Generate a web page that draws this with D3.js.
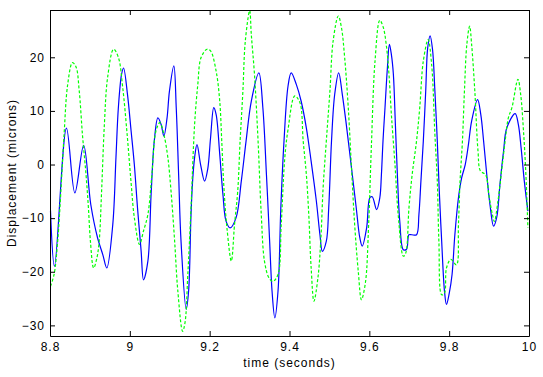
<!DOCTYPE html>
<html>
<head>
<meta charset="utf-8">
<script src="https://cdn.jsdelivr.net/npm/d3@7"></script>
<style>
    body { margin: 0; background: #fff; }
    text { font-family: "Liberation Sans", Arial, sans-serif; font-size: 12px; letter-spacing: 1px; fill: #000; }
</style>
</head>
<body>
<div id="chart"></div>
<script>
// time axis ticks and displacement ticks
var xTicks = [8.8, 9, 9.2, 9.4, 9.6, 9.8, 10];
var yTicks = [-30, -20, -10, 0, 10, 20];

// blue trace (solid)
var blueTime = [8.800, 8.810, 8.840, 8.861, 8.883, 8.901, 8.918, 8.931, 8.941, 8.956, 8.964, 8.970, 8.978, 8.983, 8.993,
    9.002, 9.010, 9.018, 9.027, 9.033, 9.044, 9.052, 9.060, 9.069, 9.077, 9.084, 9.092, 9.098, 9.109, 9.115, 9.121, 9.127,
    9.140, 9.146, 9.152, 9.156, 9.161, 9.167, 9.176, 9.186, 9.194, 9.201, 9.209, 9.215, 9.224, 9.232, 9.240, 9.250, 9.265,
    9.278, 9.290, 9.303, 9.322, 9.332, 9.341, 9.349, 9.355, 9.362, 9.370, 9.377, 9.385, 9.395, 9.403, 9.416, 9.428, 9.441,
    9.453, 9.466, 9.475, 9.481, 9.491, 9.497, 9.504, 9.512, 9.522, 9.531, 9.541, 9.554, 9.566, 9.575, 9.581, 9.592, 9.600,
    9.606, 9.617, 9.625, 9.629, 9.633, 9.638, 9.644, 9.649, 9.654, 9.659, 9.664, 9.669, 9.675, 9.684, 9.692, 9.698, 9.705,
    9.717, 9.723, 9.728, 9.734, 9.740, 9.745, 9.751, 9.757, 9.763, 9.769, 9.774, 9.780, 9.787, 9.792, 9.799, 9.806, 9.813,
    9.822, 9.830, 9.839, 9.847, 9.855, 9.870, 9.878, 9.885, 9.893, 9.901, 9.910, 9.918, 9.926, 9.935, 9.943, 9.964, 9.972,
    9.979, 9.987, 9.996];
var blueDisp = [-8.6, -19.0, 6.8, -5.3, 3.6, -7.5, -13.7, -16.8, -19.3, -11.2, 1.3, 10.6, 16.8, 18.0, 13.0,
    6.2, 0, -8.1, -16.1, -21.5, -18.0, -5.6, 4.4, 8.7, 7.5, 5.3, 8.7, 13.7, 18.4, 10.6, -1.9, -14.3,
    -27.0, -23.6, -9.3, -3.1, 1.3, 3.7, 0, -3.1, -0.8, 5.0, 10.6, 9.3, 1.9, -5.6, -10.6, -11.8, -9.9,
    -3.1, 4.4, 11.8, 17.1, 10.6, -1.9, -14.3, -23.6, -28.6, -23.6, -8.1, 4.4, 14.6, 17.1, 14.9, 11.8, 6.8,
    0.6, -6.8, -13.1, -16.2, -14.3, -8.1, 4.4, 13.1, 17.1, 13.1, 7.5, -0.6, -8.1, -13.7, -15.2, -11.8, -6.2,
    -6.0, -8.4, -6.2, -1.9, 4.4, 10.6, 18.0, 22.4, 20.5, 16.8, 7.5, -1.9, -10.6, -15.9, -15.8, -13.1, -13.1,
    -13.1, -9.3, -3.1, 4.4, 13.7, 21.8, 24.0, 21.5, 13.7, 4.4, -5.0, -14.3, -23.6, -26.1, -24.0, -20.5, -13.1,
    -6.2, -2.5, 0, 3.7, 8.1, 12.1, 9.3, 4.4, -1.9, -7.5, -11.5, -9.8, -3.7, 2.5, 6.8, 9.5, 7.5,
    3.1, -3.1, -8.7];

// green trace (dashed)
var greenTime = [8.800, 8.809, 8.818, 8.826, 8.834, 8.843, 8.855, 8.864, 8.872, 8.880, 8.889, 8.895, 8.900, 8.908, 8.916,
    8.922, 8.928, 8.935, 8.943, 8.958, 8.970, 8.981, 8.992, 9.002, 9.010, 9.023, 9.033, 9.044, 9.054, 9.064, 9.074, 9.084,
    9.094, 9.102, 9.111, 9.119, 9.131, 9.137, 9.144, 9.152, 9.161, 9.169, 9.177, 9.192, 9.201, 9.215, 9.224, 9.229, 9.234,
    9.242, 9.253, 9.261, 9.269, 9.275, 9.282, 9.288, 9.299, 9.303, 9.311, 9.320, 9.328, 9.336, 9.347, 9.357, 9.370, 9.378,
    9.387, 9.395, 9.412, 9.425, 9.433, 9.441, 9.447, 9.453, 9.460, 9.470, 9.477, 9.483, 9.491, 9.500, 9.508, 9.521, 9.529,
    9.537, 9.546, 9.554, 9.562, 9.571, 9.579, 9.589, 9.597, 9.604, 9.613, 9.625, 9.634, 9.642, 9.648, 9.654, 9.663, 9.671,
    9.684, 9.690, 9.698, 9.706, 9.717, 9.725, 9.734, 9.746, 9.755, 9.763, 9.769, 9.773, 9.780, 9.787, 9.792, 9.803, 9.817,
    9.822, 9.826, 9.832, 9.837, 9.843, 9.850, 9.855, 9.863, 9.871, 9.877, 9.890, 9.898, 9.907, 9.912, 9.921, 9.931, 9.939,
    9.947, 9.956, 9.971, 9.978, 9.985, 9.991, 9.996];
var greenDisp = [-22.7, -20.5, -14.3, -5.0, 5.6, 14.9, 19.0, 18.2, 13.7, 5.6, -1.9, -8.1, -14.3, -19.3, -17.5,
    -14.3, -5.0, 7.5, 16.2, 21.5, 20.0, 14.3, 5.6, -3.5, -9.9, -14.9, -12.4, -9.3, -1.9, 6.2, 7.8, 5.6,
    1.3, -5.0, -14.3, -23.6, -31.1, -29.5, -20.5, -8.1, 7.5, 14.9, 19.9, 21.5, 21.2, 17.4, 11.8, 4.4, -3.7,
    -11.8, -18.0, -11.2, -5.0, 4.4, 13.7, 23.0, 28.7, 24.3, 16.8, 4.4, -9.3, -18.0, -21.1, -21.8, -20.5, -11.2,
    1.3, 6.5, 12.8, 11.5, 4.4, -1.9, -9.3, -19.3, -25.5, -21.1, -14.3, -4.3, 4.4, 13.7, 23.0, 27.7, 25.5,
    19.9, 10.6, -0.6, -11.2, -19.9, -25.2, -22.0, -11.2, 3.7, 19.3, 26.9, 25.5, 21.8, 16.8, 9.3, 0, -9.3,
    -17.1, -16.5, -8.1, -1.9, 4.4, 10.6, 19.3, 23.3, 18.5, 5.6, -3.1, -14.3, -24.3, -24.0, -19.3, -17.7, -18.7,
    -11.2, -3.1, 4.4, 13.7, 22.4, 25.8, 22.4, 13.7, 2.5, -1.2, -1.9, -5.6, -9.3, -10.6, -6.8, -0.6, 4.4,
    8.7, 10.6, 15.9, 13.0, 6.2, -1.9, -11.8];

var width = 543, height = 377;
var plotLeft = 50, plotRight = 529, plotTop = 10, plotBottom = 336;

var svg = d3.select("#chart").append("svg")
    .attr("width", width).attr("height", height);

svg.append("rect").attr("width", width).attr("height", height).attr("fill", "#fff");

var x = d3.scaleLinear().domain([8.8, 10]).range([plotLeft, plotRight]);
var y = d3.scaleLinear().domain([-31.98, 28.82]).range([plotBottom, plotTop]);

var blueData = blueTime.map(function(t, i) { return { t: t, v: blueDisp[i] }; });
var greenData = greenTime.map(function(t, i) { return { t: t, v: greenDisp[i] }; });

var line = d3.line()
    .x(function(d) { return x(d.t) + 0.5; })
    .y(function(d) { return y(d.v); })
    .curve(d3.curveCatmullRom.alpha(0.5));

var plot = svg.append("g");

plot.append("path")
    .datum(blueData)
    .attr("d", line)
    .attr("fill", "none")
    .attr("stroke", "#0000ff")
    .attr("stroke-width", 1.2);

plot.append("path")
    .datum(greenData)
    .attr("d", line)
    .attr("fill", "none")
    .attr("stroke", "#00ff00")
    .attr("stroke-width", 1.2)
    .attr("stroke-dasharray", "3,2");

// box axes, ticks pointing in
svg.append("g")
    .attr("transform", "translate(0," + plotBottom + ")")
    .call(d3.axisBottom(x).tickValues(xTicks).tickSizeInner(-5).tickSizeOuter(0).tickPadding(6)
        .tickFormat(function(d) { return d3.format("")(d); }));

svg.append("g")
    .attr("transform", "translate(0," + plotTop + ")")
    .call(d3.axisTop(x).tickValues(xTicks).tickSizeInner(-5).tickSizeOuter(0).tickFormat(""));

svg.append("g")
    .attr("transform", "translate(" + plotLeft + ",0)")
    .call(d3.axisLeft(y).tickValues(yTicks).tickSizeInner(-5).tickSizeOuter(0).tickPadding(5));

svg.append("g")
    .attr("transform", "translate(" + plotRight + ",0)")
    .call(d3.axisRight(y).tickValues(yTicks).tickSizeInner(-5).tickSizeOuter(0).tickFormat(""));

svg.selectAll(".domain").attr("stroke", "#000");
svg.selectAll(".tick line").attr("stroke", "#000");
svg.selectAll(".tick text")
    .style("font-family", "'Liberation Sans', Arial, sans-serif")
    .style("font-size", "12px");

// axis labels
svg.append("text")
    .attr("x", (plotLeft + plotRight) / 2)
    .attr("y", 367)
    .attr("text-anchor", "middle")
    .text("time (seconds)");

svg.append("text")
    .attr("transform", "translate(16," + ((plotTop + plotBottom) / 2) + ") rotate(-90)")
    .attr("text-anchor", "middle")
    .text("Displacement (microns)");
</script>
</body>
</html>
